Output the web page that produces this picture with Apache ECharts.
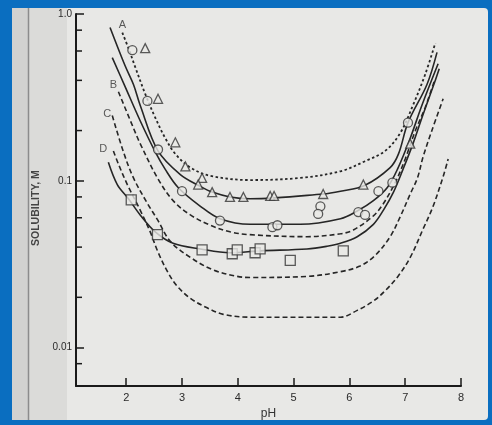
<!DOCTYPE html>
<html>
<head>
<meta charset="utf-8">
<script src="https://cdn.jsdelivr.net/npm/echarts@6/dist/echarts.min.js"></script>
<style>
  html, body { margin: 0; padding: 0; }
  #main { width: 492px; height: 425px; }
</style>
</head>
<body>
<div id="main"></div>
<script>
// curves, [pH, solubility M]
var dashedA = [[1.93,0.773],[2.04,0.624],[2.16,0.482],[2.34,0.332],[2.52,0.239],[2.70,0.180],[2.88,0.145],[3.15,0.120],[3.51,0.107],[4.22,0.101],[5.12,0.104],[5.84,0.114],[6.28,0.131],[6.64,0.151],[6.91,0.193],[7.14,0.284],[7.36,0.436],[7.54,0.670]];
var solidA = [[1.71,0.830],[1.98,0.489],[2.13,0.378],[2.25,0.284],[2.57,0.151],[2.97,0.109],[3.33,0.0925],[3.54,0.0855],[3.86,0.080],[4.22,0.078],[5.53,0.0833],[5.84,0.0866],[6.27,0.0937],[6.73,0.120],[6.88,0.145],[7.05,0.223],[7.39,0.378],[7.57,0.589]];
var solidB = [[1.75,0.548],[1.98,0.367],[2.25,0.229],[2.52,0.149],[2.70,0.117],[2.93,0.0912],[3.33,0.0703],[3.68,0.0592],[4.22,0.0548],[5.12,0.0548],[5.84,0.0592],[6.14,0.0658],[6.43,0.0760],[6.68,0.0912],[6.86,0.117],[7.09,0.180],[7.30,0.284],[7.59,0.503]];
var dashedB = [[1.86,0.342],[2.13,0.207],[2.25,0.167],[2.56,0.104],[2.84,0.0760],[3.15,0.0624],[3.51,0.0541],[3.86,0.0494],[4.22,0.0475],[5.24,0.0462],[5.84,0.0481],[6.07,0.0507],[6.43,0.0616],[6.61,0.0731],[6.82,0.0974],[7.00,0.135],[7.18,0.199],[7.36,0.276],[7.52,0.395]];
var dashedC = [[1.75,0.246],[1.95,0.149],[2.13,0.104],[2.38,0.0731],[2.56,0.0585],[2.79,0.0433],[3.15,0.0347],[3.56,0.0292],[3.99,0.0267],[4.22,0.0263],[5.24,0.0267],[5.84,0.0285],[6.19,0.0308],[6.46,0.0356],[6.73,0.0462],[6.91,0.0608],[7.09,0.0833],[7.22,0.104],[7.32,0.139],[7.48,0.201],[7.68,0.310]];
var solidD = [[1.68,0.129],[1.84,0.0949],[2.04,0.0780],[2.25,0.0624],[2.52,0.0494],[2.84,0.0422],[3.33,0.0390],[3.86,0.0370],[4.40,0.0380],[5.24,0.0390],[5.60,0.0405],[5.84,0.0422],[6.14,0.0462],[6.43,0.0548],[6.61,0.0667],[6.79,0.0855],[6.96,0.117],[7.14,0.167],[7.32,0.250],[7.50,0.367],[7.61,0.469]];
var dashedD = [[1.77,0.151],[1.86,0.126],[2.02,0.0949],[2.25,0.0667],[2.43,0.0494],[2.56,0.0380],[2.74,0.0285],[2.91,0.0234],[3.15,0.0197],[3.45,0.0173],[3.74,0.0158],[4.22,0.0152],[5.84,0.0152],[6.14,0.0167],[6.43,0.0190],[6.64,0.0219],[6.87,0.0267],[7.09,0.0347],[7.32,0.0513],[7.50,0.0703],[7.68,0.106],[7.77,0.135]];

// measured points
var triangles = [[2.34,0.624],[2.57,0.310],[2.88,0.170],[3.06,0.122],[3.36,0.104],[3.29,0.0949],[3.54,0.0855],[3.86,0.080],[4.10,0.080],[4.58,0.0811],[4.65,0.0811],[5.53,0.0833],[6.25,0.0949],[7.09,0.167]];
var circles = [[2.11,0.607],[2.38,0.301],[2.57,0.154],[3.00,0.0866],[3.68,0.0577],[4.62,0.0527],[4.71,0.0541],[5.48,0.0703],[5.44,0.0633],[6.16,0.0649],[6.28,0.0624],[6.52,0.0866],[6.77,0.0974],[7.05,0.223]];
var squares = [[2.09,0.0769],[2.56,0.0475],[3.36,0.0385],[3.90,0.0365],[3.99,0.0385],[4.31,0.0370],[4.40,0.0390],[4.94,0.0333],[5.89,0.0380]];

// curve letters
var curveLabels = [['A',1.93,0.855],['B',1.77,0.373],['C',1.66,0.253],['D',1.59,0.156]];

var xTicks = [2,3,4,5,6,7,8];
var yLabels = [0.01,0.1,1];
var yMinor = [0.008,0.02,0.04,0.06,0.08,0.2,0.4,0.6,0.8];

var xMin = 1.1, xMax = 8;
var yMin = 0.00587, yMax = 1;
var paper = '#e8e8e6';
var ink = '#262626';

var chart = echarts.init(document.getElementById('main'));

function curve(data, dash, w) {
  return {
    type: 'line',
    data: data,
    smooth: 0.35,
    showSymbol: false,
    silent: true,
    z: 3,
    lineStyle: { color: ink, width: w || 1.6, type: dash || 'solid' }
  };
}
function points(data, symbol, size) {
  return {
    type: 'scatter',
    data: data,
    symbol: symbol,
    symbolSize: size,
    z: 5,
    itemStyle: { color: paper, borderColor: '#333', borderWidth: 1.3 }
  };
}

var background = [
  { type: 'rect', z: -100, silent: true, shape: { x: 12, y: 8, width: 476, height: 412, r: 4 }, style: { fill: paper } },
  { type: 'rect', z: -99, silent: true, shape: { x: 12, y: 8, width: 17, height: 412 }, style: { fill: '#d2d2d0' } },
  { type: 'rect', z: -99, silent: true, shape: { x: 29, y: 8, width: 38, height: 412 }, style: { fill: '#dbdbd9' } },
  { type: 'line', z: -98, silent: true, shape: { x1: 28.5, y1: 8, x2: 28.5, y2: 420 }, style: { stroke: '#8c8c8c', lineWidth: 1.5 } }
];

var option = {
  backgroundColor: '#0a6ec0',
  animation: false,
  textStyle: { fontFamily: 'Liberation Sans, Arial, sans-serif' },
  graphic: background,
  grid: { left: 76, right: 31, top: 14, bottom: 35 },
  xAxis: {
    type: 'value',
    min: xMin,
    max: xMax,
    name: 'pH',
    nameLocation: 'middle',
    nameGap: 18,
    nameTextStyle: { color: '#333', fontSize: 12 },
    axisLine: { show: true, onZero: false, lineStyle: { color: '#1a1a1a', width: 2 } },
    axisTick: { show: true, inside: true, length: 8, customValues: xTicks, lineStyle: { color: '#1a1a1a', width: 1.5 } },
    axisLabel: { customValues: xTicks, color: '#2a2a2a', fontSize: 11, margin: 6 },
    splitLine: { show: false }
  },
  yAxis: {
    type: 'log',
    logBase: 10,
    min: yMin,
    max: yMax,
    name: 'SOLUBILITY, M',
    nameLocation: 'middle',
    nameGap: 24,
    nameTextStyle: { color: '#444', fontSize: 10.5, fontWeight: 'bold', padding: [0, 16, 0, 0] },
    axisLine: { show: true, onZero: false, lineStyle: { color: '#1a1a1a', width: 2 } },
    axisTick: { show: true, inside: true, length: 8, lineStyle: { color: '#1a1a1a', width: 1.5 } },
    axisLabel: {
      customValues: yLabels,
      color: '#2a2a2a',
      fontSize: 10,
      margin: 4,
      formatter: function (v) { return v === 1 ? '1.0' : String(v); }
    },
    splitLine: { show: false }
  },
  series: [
    curve(dashedA, [2.5, 2.5], 1.8),
    curve(solidA),
    curve(solidB),
    curve(dashedB, [5, 3]),
    curve(dashedC, [5, 3]),
    curve(solidD),
    curve(dashedD, [5, 3]),
    points(triangles, 'triangle', 9),
    points(circles, 'circle', 9),
    points(squares, 'rect', 10),
    {
      type: 'scatter',
      symbolSize: 1,
      silent: true,
      z: 6,
      itemStyle: { color: 'rgba(0,0,0,0)' },
      data: curveLabels.map(function (d) { return { name: d[0], value: [d[1], d[2]] }; }),
      label: { show: true, position: 'inside', formatter: '{b}', color: '#333', fontSize: 11 }
    }
  ]
};

chart.setOption(option);

// minor log ticks: place them with the chart's own y scale
var minorTicks = yMinor.map(function (v) {
  var p = chart.convertToPixel({ gridIndex: 0 }, [xMin, v]);
  return {
    type: 'line',
    z: 100,
    silent: true,
    shape: { x1: p[0], y1: p[1], x2: p[0] + 6, y2: p[1] },
    style: { stroke: '#1a1a1a', lineWidth: 1.5 }
  };
});
chart.setOption({ graphic: background.concat(minorTicks) });
</script>
</body>
</html>
